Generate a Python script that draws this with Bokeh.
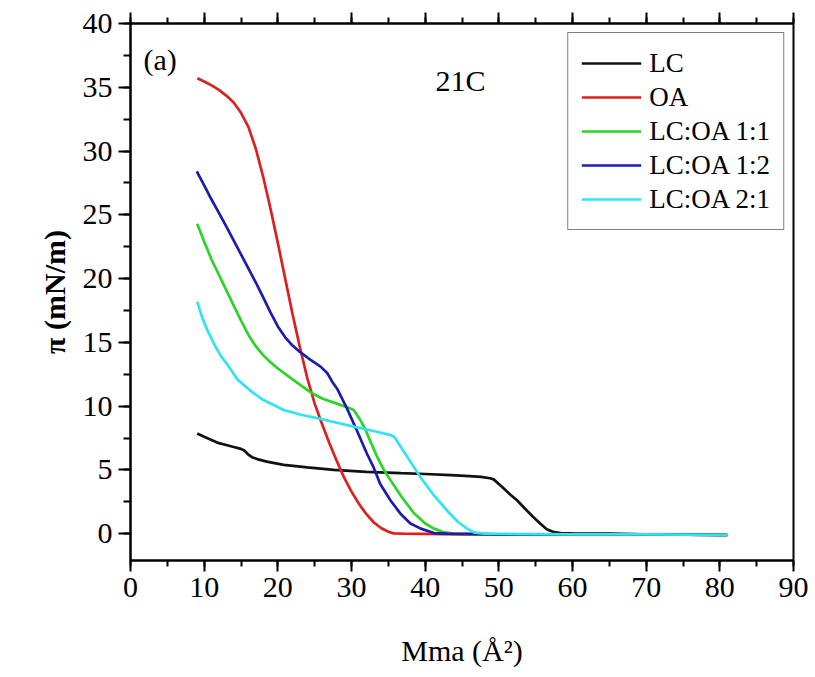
from bokeh.plotting import figure
from bokeh.models import Range1d, LinearAxis, SingleIntervalTicker, Label, CustomJSTickFormatter
from bokeh.embed import file_html
from bokeh.resources import INLINE

# ---------------- data ----------------
lc_x = [9.06, 10, 11, 12, 13, 14, 15, 15.5, 16, 16.5, 17.2, 18.5, 20.8, 24, 27.6, 32,
        36.7, 40, 43.5, 46, 47.6, 48.8, 49.3, 50.5, 51.5, 52.5, 53.5, 54.6, 55.65, 56.5,
        57.5, 58.4, 60, 65, 70, 81]
lc_y = [7.85, 7.6, 7.35, 7.1, 6.95, 6.8, 6.65, 6.5, 6.2, 6.0, 5.85, 5.65, 5.4, 5.2, 5.0, 4.85,
        4.75, 4.68, 4.6, 4.52, 4.45, 4.35, 4.26, 3.64, 3.1, 2.6, 2.0, 1.35, 0.78, 0.35,
        0.12, 0.05, 0.02, 0.0, -0.05, -0.1]

oa_x = [9.06, 10, 11, 12, 13, 14, 15, 16, 17, 18, 19, 20, 21, 22, 23, 24, 25, 26, 27, 28,
        29, 30, 31, 32, 33, 34, 35, 35.7, 37, 45, 55, 65, 81]
oa_y = [35.7, 35.45, 35.15, 34.8, 34.35, 33.8, 33.0, 31.9, 30.2, 28.0, 25.5, 22.8, 20.0,
        17.2, 14.6, 12.2, 10.2, 8.6, 7.1, 5.7, 4.4, 3.3, 2.35, 1.55, 0.9, 0.45, 0.15, 0.03,
        0.0, -0.05, -0.05, -0.05, -0.1]

m11_x = [9.05, 10, 11, 12, 13, 14, 15, 16, 17, 18, 19, 20, 22, 24.4, 26, 28, 29.5, 30.3,
         31, 31.7, 32.6, 33.5, 34.4, 35.3, 36.9, 38.5, 40, 41.2, 42.6, 44, 50, 60, 70, 81]
m11_y = [24.3, 22.9, 21.5, 20.3, 19.1, 17.9, 16.7, 15.6, 14.7, 14.0, 13.45, 12.95, 12.1, 11.1,
         10.6, 10.2, 9.9, 9.7, 9.1, 8.4, 7.2, 6.0, 5.0, 4.2, 2.8, 1.6, 0.8, 0.4, 0.1, 0.0,
         -0.05, -0.05, -0.05, -0.1]

m12_x = [9.0, 10, 11, 12, 13, 14, 15, 16, 17, 18, 19, 20, 21, 22, 23, 24.5,
         25.8, 26.7, 27.4, 28.05, 29.4, 30.8, 32.1, 33, 33.9, 35.3, 36.65, 38, 39.4, 41.2,
         43, 50, 60, 70, 81]
m12_y = [28.4, 27.3, 26.2, 25.15, 24.1, 23.0, 21.9, 20.8, 19.7, 18.55, 17.35, 16.25, 15.4,
         14.75, 14.25, 13.6, 13.1, 12.6, 11.9, 11.37, 9.8, 8.0, 6.27, 5.2, 3.9, 2.6, 1.57,
         0.8, 0.4, 0.05, 0.0, -0.05, -0.05, -0.05, -0.1]

m21_x = [9.06, 9.7, 10.4, 11.5, 12.3, 13.1, 14.5, 16.3, 18, 20.8, 23, 25.8, 28, 30.3, 33,
         35.2, 35.8, 36.7, 37.6, 38.5, 39.4, 41.2, 43, 44.5, 45.7, 46.6, 48, 60, 70, 81]
m21_y = [18.2, 17.0, 16.0, 14.7, 13.9, 13.3, 12.1, 11.2, 10.5, 9.7, 9.35, 9.0, 8.7, 8.4, 8.05,
         7.75, 7.6, 6.8, 6.0, 5.2, 4.4, 3.0, 1.8, 0.9, 0.4, 0.1, 0.0, -0.05, -0.05, -0.1]

series = [
    ("LC", lc_x, lc_y, "#111111"),
    ("OA", oa_x, oa_y, "#dc2020"),
    ("LC:OA 1:1", m11_x, m11_y, "#2ad42a"),
    ("LC:OA 1:2", m12_x, m12_y, "#1c1cb0"),
    ("LC:OA 2:1", m21_x, m21_y, "#30e4f0"),
]

x_ticks_interval = 10
y_ticks_interval = 5

FONT = "Liberation Serif"

p = figure(width=808, height=670,
           x_range=Range1d(0, 90), y_range=Range1d(-2.1, 40),
           output_backend="svg", toolbar_location=None,
           min_border_left=130, min_border_right=15,
           min_border_top=23, min_border_bottom=110)
p.grid.visible = False
p.outline_line_color = "black"
p.outline_line_width = 2
p.background_fill_color = "white"
p.border_fill_color = "white"

for name, xs, ys, col in series:
    p.line(xs, ys, line_color=col, line_width=2.7, legend_label=name)

# bottom axis
xa = p.xaxis[0]
xa.ticker = SingleIntervalTicker(interval=x_ticks_interval, num_minor_ticks=2)
xa.axis_label = "Mma (Å²)"
# left axis
ya = p.yaxis[0]
ya.ticker = SingleIntervalTicker(interval=y_ticks_interval, num_minor_ticks=2)
ya.axis_label = "π (mN/m)"

for ax, tick_out, minor_out in ((xa, 11, 6), (ya, 12, 7)):
    ax.axis_line_width = 2
    ax.major_tick_line_width = 2
    ax.minor_tick_line_width = 2
    ax.major_tick_in = 0
    ax.major_tick_out = tick_out
    ax.minor_tick_in = 0
    ax.minor_tick_out = minor_out
    ax.major_label_text_font = FONT
    ax.major_label_text_font_size = "30px"
    ax.major_label_text_color = "black"
    ax.major_label_standoff = 6
    ax.axis_label_text_font = FONT
    ax.axis_label_text_font_size = "30px"
    ax.axis_label_text_color = "black"
    ax.axis_label_text_font_style = "normal"

ya.axis_label_text_font_style = "bold"
xa.axis_label_standoff = 34
ya.axis_label_standoff = 9

top = LinearAxis(ticker=SingleIntervalTicker(interval=x_ticks_interval, num_minor_ticks=2),
                 formatter=CustomJSTickFormatter(code="return ''"),
                 major_label_standoff=0,
                 axis_line_width=2, major_tick_line_width=2, minor_tick_line_width=2,
                 major_tick_in=0, major_tick_out=11, minor_tick_in=0, minor_tick_out=6)
p.add_layout(top, "above")

leg = p.legend[0]
leg.location = "top_right"
leg.margin = 9
leg.padding = 13
leg.spacing = 0
leg.glyph_width = 60
leg.glyph_height = 34
leg.label_height = 34
leg.label_standoff = 8
leg.label_text_font = FONT
leg.label_text_font_size = "27px"
leg.label_text_color = "black"
leg.border_line_color = "black"
leg.border_line_width = 1.5
leg.background_fill_alpha = 1.0

p.add_layout(Label(x=1.76, y=37.2, text="(a)", text_font=FONT, text_font_size="30px",
                   text_baseline="alphabetic", text_color="black"))
p.add_layout(Label(x=41.4, y=35.5, text="21C", text_font=FONT, text_font_size="30px",
                   text_baseline="alphabetic", text_color="black"))

open("out.html", "w").write(file_html(p, INLINE))
